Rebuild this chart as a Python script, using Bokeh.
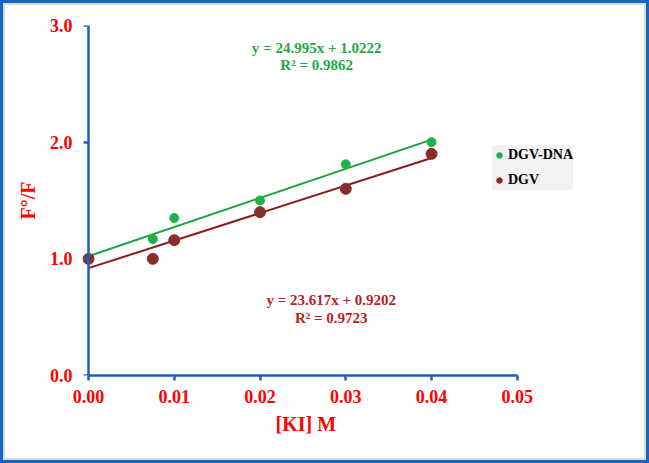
from bokeh.plotting import figure
from bokeh.models import (ColumnDataSource, FixedTicker, NumeralTickFormatter, Legend,
                          LegendItem, Label, Range1d, LinearAxis, CustomJSTickFormatter, Title)
from bokeh.layouts import column
from bokeh.embed import file_html
from bokeh.resources import INLINE

# ---- data ----
ki_conc = [0.0, 0.0075, 0.01, 0.02, 0.03, 0.04]
dgv_dna = [1.0, 1.17, 1.35, 1.50, 1.81, 2.00]
dgv = [1.0, 1.0, 1.16, 1.40, 1.60, 1.90]
series_names = ["DGV-DNA", "DGV"]
fit_slope = [24.995, 23.617]
fit_intercept = [1.0222, 0.9202]
fit_r2 = [0.9862, 0.9723]
x_ticks = [0.0, 0.01, 0.02, 0.03, 0.04, 0.05]
y_ticks = [0.0, 1.0, 2.0, 3.0]
x_title = "[KI] M"
y_title = "F°/F"

FONT = "Liberation Serif"
AXIS_BLUE = "#1a5fc4"
RED = "#ff0000"
GREEN_PT = "#1fb04a"
GREEN_LN = "#17a53a"
BROWN_PT = "#8c2b2b"
BROWN_LN = "#8b1c1c"
GREEN_TXT = "#1fa845"
BROWN_TXT = "#b51f1f"

p = figure(width=639, height=453, output_backend="svg", toolbar_location=None,
           x_range=Range1d(-0.0007, 0.0576), y_range=Range1d(0.0, 3.0),
           min_border_left=77, min_border_right=62, min_border_top=20,
           min_border_bottom=83)
p.outline_line_color = None
p.grid.visible = False
p.background_fill_color = "white"
p.border_fill_color = "white"

# trend lines from the stated fits
fit_x = [ki_conc[0], ki_conc[-1]]
green_fit = [fit_slope[0] * x + fit_intercept[0] for x in fit_x]
brown_fit = [fit_slope[1] * x + fit_intercept[1] for x in fit_x]
p.line(fit_x, green_fit, line_color=GREEN_LN, line_width=2)
p.line(fit_x, brown_fit, line_color=BROWN_LN, line_width=2)

src = ColumnDataSource(dict(x=ki_conc, a=dgv_dna, b=dgv))
r_green = p.scatter("x", "a", source=src, size=9, fill_color=GREEN_PT, line_color=GREEN_PT)
r_brown = p.scatter("x", "b", source=src, size=11, fill_color=BROWN_PT, line_color=BROWN_PT)

def style_text(ax):
    ax.major_label_text_font = FONT
    ax.major_label_text_font_style = "bold"
    ax.major_label_text_font_size = "18px"
    ax.major_label_text_color = RED
    ax.axis_label_text_font = FONT
    ax.axis_label_text_font_style = "bold"
    ax.axis_label_text_font_size = "20px"
    ax.axis_label_text_color = RED

# x axis
xa = p.xaxis[0]
style_text(xa)
xa.axis_line_color = AXIS_BLUE
xa.axis_line_width = 2.5
xa.major_tick_line_color = AXIS_BLUE
xa.major_tick_line_width = 2.5
xa.major_tick_in = 0
xa.major_tick_out = 5
xa.minor_tick_line_color = None
xa.major_label_standoff = 9
xa.ticker = FixedTicker(ticks=x_ticks)
xa.formatter = NumeralTickFormatter(format="0.00")
xa.bounds = (0.0, 0.05)

# x-axis title, placed under the tick labels and centred under 0 .. 0.05
p.add_layout(Title(text=x_title, align="left", offset=193, standoff=10,
                   text_font=FONT, text_font_style="bold", text_font_size="20px",
                   text_color=RED), "below")

# y axis: labels + title at the frame edge
ya = p.yaxis[0]
style_text(ya)
ya.axis_line_color = None
ya.major_tick_line_color = None
ya.minor_tick_line_color = None
ya.major_tick_in = 0
ya.major_tick_out = 0
ya.major_label_standoff = 10
ya.ticker = FixedTicker(ticks=y_ticks)
ya.formatter = NumeralTickFormatter(format="0.0")
ya.axis_label = y_title
ya.axis_label_standoff = 8

# y axis line + ticks drawn at x = 0
yline = LinearAxis(fixed_location=0.0, ticker=FixedTicker(ticks=y_ticks),
                   formatter=CustomJSTickFormatter(code="return ''"),
                   axis_line_color=AXIS_BLUE, axis_line_width=2.5,
                   major_tick_line_color=AXIS_BLUE, major_tick_line_width=2.5,
                   major_tick_in=0, major_tick_out=5, minor_tick_line_color=None,
                   major_label_standoff=0)
p.add_layout(yline, "left")

# equations
def add_eq(x, y, text, color):
    p.add_layout(Label(x=x, y=y, text=text, text_align="center", text_baseline="middle",
                       text_font=FONT, text_font_style="bold", text_font_size="15px",
                       text_color=color))

add_eq(0.0266, 2.81, f"y = {fit_slope[0]}x + {fit_intercept[0]}", GREEN_TXT)
add_eq(0.0266, 2.665, f"R² = {fit_r2[0]}", GREEN_TXT)
add_eq(0.0283, 0.643, f"y = {fit_slope[1]}x + {fit_intercept[1]}", BROWN_TXT)
add_eq(0.0283, 0.489, f"R² = {fit_r2[1]}", BROWN_TXT)

legend = Legend(items=[LegendItem(label=series_names[0], renderers=[r_green]),
                       LegendItem(label=series_names[1], renderers=[r_brown])],
                location=(410, 185), orientation="vertical",
                background_fill_color="#f2f2f2", background_fill_alpha=1.0,
                border_line_color=None, padding=4, spacing=5, margin=0,
                label_height=20, glyph_height=20, glyph_width=14, label_standoff=2,
                label_text_font=FONT, label_text_font_style="bold",
                label_text_font_size="14px", label_text_color="black")
p.add_layout(legend, "center")

inner = column(p, styles={"border": "2px solid #dadada"})
outer = column(inner, styles={"border": "3px solid #1565c0", "background": "white"})

open("out.html", "w").write(file_html(outer, INLINE))
